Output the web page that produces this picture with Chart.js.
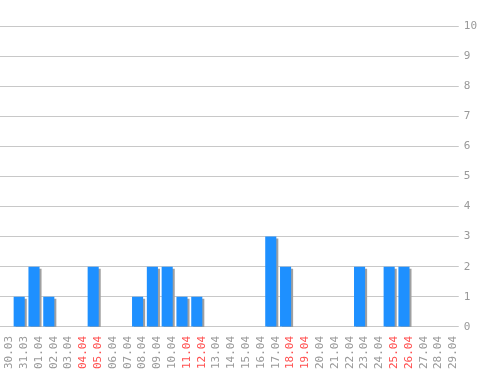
<!DOCTYPE html>
<html>
<head>
<meta charset="utf-8">
<script src="https://cdn.jsdelivr.net/npm/chart.js@4"></script>
<style>
  body { margin: 0; background: #fff; overflow: hidden; }
  canvas { display: block; margin-left: -3px; }
</style>
</head>
<body>
<canvas id="grafico" width="501" height="370"></canvas>
<script>
// dias e quantidades
const dias = ['30.03', '31.03', '01.04', '02.04', '03.04', '04.04', '05.04', '06.04', '07.04', '08.04',
    '09.04', '10.04', '11.04', '12.04', '13.04', '14.04', '15.04', '16.04', '17.04', '18.04',
    '19.04', '20.04', '21.04', '22.04', '23.04', '24.04', '25.04', '26.04', '27.04', '28.04', '29.04'];
const quantidades = [0, 1, 2, 1, 0, 0, 2, 0, 0, 1,
    2, 2, 1, 1, 0, 0, 0, 0, 3, 2,
    0, 0, 0, 0, 2, 0, 2, 2, 0, 0, 0];
const fimDeSemana = ['04.04', '05.04', '11.04', '12.04', '18.04', '19.04', '25.04', '26.04'];
const yTicks = [0, 1, 2, 3, 4, 5, 6, 7, 8, 9, 10];

const fonte = { family: '"DejaVu Sans Mono", monospace', size: 11 };

// sombra cinza por baixo das barras
const sombra = {
    id: 'sombra',
    beforeDatasetsDraw(chart) {
        const ctx = chart.ctx;
        ctx.save();
        ctx.shadowColor = '#a0a0a0';
        ctx.shadowOffsetX = 2;
        ctx.shadowOffsetY = 2;
        ctx.shadowBlur = 0;
    },
    afterDatasetsDraw(chart) {
        chart.ctx.restore();
    }
};

new Chart(document.getElementById('grafico').getContext('2d'), {
    type: 'bar',
    data: {
        labels: dias,
        datasets: [{
            data: quantidades,
            backgroundColor: '#1e90ff',
            borderWidth: 0,
            barPercentage: 0.75,
            categoryPercentage: 1
        }]
    },
    options: {
        responsive: false,
        animation: false,
        layout: { padding: { left: 0, right: 16, top: 26, bottom: 0 } },
        plugins: { legend: { display: false }, tooltip: { enabled: false } },
        scales: {
            x: {
                grid: { display: false },
                border: { display: false },
                ticks: {
                    font: fonte,
                    minRotation: 90,
                    maxRotation: 90,
                    autoSkip: false,
                    labelOffset: 5,
                    padding: 1,
                    color: ctx => fimDeSemana.includes(dias[ctx.index]) ? '#ff5050' : '#999999'
                }
            },
            y: {
                position: 'right',
                min: 0,
                max: 10,
                afterBuildTicks: axis => { axis.ticks = yTicks.map(v => ({ value: v })); },
                grid: { color: '#c8c8c8', tickLength: 3 },
                border: { display: false },
                ticks: { font: fonte, color: '#999999', padding: 5 }
            }
        }
    },
    plugins: [sombra]
});
</script>
</body>
</html>
